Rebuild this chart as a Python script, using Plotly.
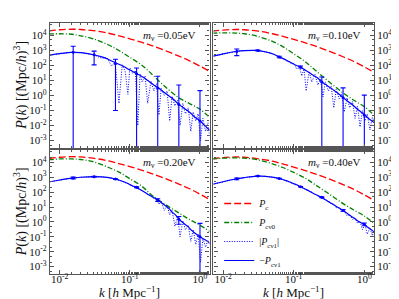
import plotly.graph_objects as go

# ---------------- data ----------------
k_smooth = [0.007, 0.01, 0.015, 0.02, 0.03, 0.05, 0.07, 0.1, 0.15, 0.2, 0.3, 0.5, 0.7, 1.0, 1.37]

pc_005 = [2.0e4, 2.4e4, 2.6e4, 2.5e4, 2.1e4, 1.4e4, 9.5e3, 6e3, 3.4e3, 2.2e3, 1.1e3, 4.2e2, 2.1e2, 9e1, 4e1]
pc_010 = [1.9e4, 2.3e4, 2.5e4, 2.4e4, 2.0e4, 1.3e4, 8.8e3, 5.5e3, 3.1e3, 2.0e3, 1.0e3, 3.8e2, 1.9e2, 8e1, 3.5e1]
pc_020 = [1.8e4, 2.2e4, 2.4e4, 2.3e4, 1.9e4, 1.25e4, 8.3e3, 5.2e3, 2.9e3, 1.85e3, 9.2e2, 3.5e2, 1.75e2, 7.3e1, 3.2e1]
pc_040 = [1.7e4, 2.1e4, 2.3e4, 2.2e4, 1.8e4, 1.2e4, 7.8e3, 4.8e3, 2.7e3, 1.7e3, 8.5e2, 3.2e2, 1.6e2, 6.5e1, 2.8e1]

pcn0_005 = [1.25e4, 1.3e4, 1.2e4, 9.5e3, 6e3, 2.3e3, 1e3, 3.5e2, 1e2, 30, 5, 0.7, 0.3, 0.12, 0.035]
pcn0_010 = [1.4e4, 1.5e4, 1.45e4, 1.3e4, 9e3, 4e3, 1.8e3, 6e2, 1.6e2, 50, 10, 1.5, 0.5, 0.18, 0.05]
pcn0_020 = [1.5e4, 1.7e4, 1.7e4, 1.55e4, 1.1e4, 4.5e3, 2.2e3, 8e2, 2.4e2, 70, 18, 4, 1.5, 0.6, 0.23]
pcn0_040 = [1.7e4, 1.9e4, 2.0e4, 1.9e4, 1.5e4, 8e3, 4.5e3, 2.1e3, 8e2, 3.2e2, 90, 17, 6.5, 2.5, 0.8]

k_fine = [0.007, 0.01, 0.015, 0.02, 0.03, 0.04, 0.047, 0.055, 0.062, 0.07, 0.078, 0.086, 0.094, 0.1,
          0.11, 0.12, 0.13, 0.14, 0.15, 0.165, 0.18, 0.2, 0.22, 0.24, 0.26, 0.28, 0.31, 0.34, 0.37,
          0.4, 0.44, 0.48, 0.52, 0.57, 0.62, 0.68, 0.74, 0.8, 0.87, 0.94, 1.02, 1.1, 1.2, 1.3, 1.37]

# -P_cnu1 (smooth model)
mp_005 = [480, 620, 750, 720, 520, 370, 280, 200, 155, 120, 95, 75, 58, 50,
          40, 32, 26, 22, 18, 13.5, 10, 7, 5, 3.8, 3, 2.3, 1.6, 1.15, 0.85,
          0.65, 0.45, 0.3, 0.22, 0.16, 0.12, 0.09, 0.065, 0.045, 0.033, 0.025, 0.019, 0.013, 0.009, 0.006, 0.005]
mp_010 = [400, 600, 850, 980, 1000, 800, 660, 500, 370, 290, 230, 180, 145, 125,
          100, 85, 68, 55, 45, 34, 26, 19, 14, 9.5, 7, 5.5, 4, 3, 2.2,
          1.7, 1.2, 0.85, 0.62, 0.45, 0.33, 0.24, 0.17, 0.12, 0.09, 0.065, 0.047, 0.035, 0.025, 0.019, 0.016]
mp_020 = [480, 650, 880, 1000, 1100, 1050, 980, 870, 760, 640, 540, 450, 380, 320,
          260, 220, 180, 150, 125, 95, 72, 55, 42, 33, 26, 20, 14, 10, 7,
          4.5, 3.2, 2, 1.3, 0.9, 0.65, 0.48, 0.3, 0.22, 0.16, 0.12, 0.095, 0.075, 0.06, 0.046, 0.04]
mp_040 = [330, 500, 760, 950, 1200, 1150, 1050, 950, 820, 700, 590, 500, 420, 370,
          310, 250, 210, 175, 150, 120, 95, 72, 58, 47, 38, 31, 23, 18, 14,
          11, 8.5, 6.5, 5, 3.8, 2.8, 2.1, 1.6, 1.2, 0.95, 0.78, 0.6, 0.45, 0.35, 0.26, 0.22]

# |P_cnu1| (measured, noisy)
ab_005 = [480, 620, 750, 720, 520, 300, 340, 90, 180, 0.3, 110, 40, 1.2, 70,
          30, 45, 0.01, 25, 8, 20, 0.3, 9, 2, 6, 0.05, 3, 1.0, 2.0, 0.02,
          0.9, 0.2, 0.5, 0.01, 0.3, 0.06, 0.15, 0.004, 0.08, 0.02, 0.06, 0.001, 0.03, 0.004, 0.015, 0.002]
ab_010 = [400, 600, 850, 980, 1000, 800, 660, 520, 330, 300, 200, 190, 120, 140,
          60, 95, 20, 60, 2, 40, 8, 25, 5, 12, 0.8, 8, 2, 4, 0.15,
          2.5, 0.6, 1.3, 0.08, 0.7, 0.15, 0.4, 0.03, 0.2, 0.008, 0.1, 0.02, 0.06, 0.005, 0.035, 0.02]
ab_020 = [480, 650, 880, 1000, 1100, 1050, 980, 870, 760, 640, 540, 450, 380, 320,
          260, 220, 180, 150, 125, 100, 68, 60, 38, 35, 15, 24, 6, 12, 3,
          6, 0.5, 2.5, 0.1, 1.2, 0.3, 0.6, 0.05, 0.3, 0.03, 0.15, 0.002, 0.08, 0.02, 0.06, 0.03]
ab_040 = [330, 500, 760, 950, 1200, 1150, 1050, 950, 820, 700, 590, 500, 420, 370,
          310, 250, 210, 175, 150, 120, 95, 72, 58, 47, 38, 31, 25, 16, 15,
          9, 9, 5, 5.5, 2.5, 3.2, 1.5, 1.8, 0.8, 1.1, 0.3, 0.7, 0.15, 0.4, 0.12, 0.25]

# error-bar points
k_err = [0.0156, 0.031, 0.0625, 0.125, 0.25, 0.5, 1.0]
ev_005 = [750, 510, 130, 28, 3.2, 0.25, 0.02]
es_005 = [1150, 400, 129.9, 40, 16, 4.8, 2.1]
ev_010 = [850, 1000, 370, 80, 8, 0.7, 0.05]
es_010 = [400, 60, 40, 12, 9, 2.5, 1.0]
ev_020 = [900, 1100, 750, 210, 30, 1.5, 0.1]
es_020 = [120, 60, 40, 15, 6, 0.8, 0.7]
ev_040 = [780, 1200, 820, 230, 45, 6, 0.7]
es_040 = [100, 50, 30, 10, 3, 0.8, 0.15]

x_tick_vals = [0.01, 0.1, 1.0]
x_tick_text = ["10<sup>-2</sup>", "10<sup>-1</sup>", "10<sup>0</sup>"]
y_tick_vals = [1e-3, 1e-2, 1e-1, 1e0, 1e1, 1e2, 1e3, 1e4]
y_tick_text = ["10<sup>-3</sup>", "10<sup>-2</sup>", "10<sup>-1</sup>", "10<sup>0</sup>",
               "10<sup>1</sup>", "10<sup>2</sup>", "10<sup>3</sup>", "10<sup>4</sup>"]

panel_labels = ["0.05eV", "0.10eV", "0.20eV", "0.40eV"]
legend_names = ["<i>P</i><sub>c</sub>", "<i>P</i><sub>cν0</sub>",
                "|<i>P</i><sub>cν1</sub>|", "−<i>P</i><sub>cν1</sub>"]

panels = [
    (pc_005, pcn0_005, ab_005, mp_005, ev_005, es_005),
    (pc_010, pcn0_010, ab_010, mp_010, ev_010, es_010),
    (pc_020, pcn0_020, ab_020, mp_020, ev_020, es_020),
    (pc_040, pcn0_040, ab_040, mp_040, ev_040, es_040),
]

RED = "#ff0000"
GREEN = "#008000"
BLUE = "#0000ff"
FONT = "Liberation Serif"
TXT = "#111111"

fig = go.Figure()
for i, (pc, pcn0, ab, mp, ev, es) in enumerate(panels):
    xa = "x" if i == 0 else f"x{i+1}"
    ya = "y" if i == 0 else f"y{i+1}"
    show = (i == 0)
    fig.add_trace(go.Scatter(x=k_smooth, y=pc, mode="lines", name=legend_names[0],
                             line=dict(color=RED, width=1.3, dash="7px,3px", shape="spline"),
                             xaxis=xa, yaxis=ya, showlegend=show, legendrank=1))
    fig.add_trace(go.Scatter(x=k_smooth, y=pcn0, mode="lines", name=legend_names[1],
                             line=dict(color=GREEN, width=1.3, dash="5px,2px,1px,2px", shape="spline"),
                             xaxis=xa, yaxis=ya, showlegend=show, legendrank=2))
    fig.add_trace(go.Scatter(x=k_fine, y=ab, mode="lines", name=legend_names[2],
                             line=dict(color=BLUE, width=1.0, dash="1px,1.5px"),
                             xaxis=xa, yaxis=ya, showlegend=show, legendrank=3))
    fig.add_trace(go.Scatter(x=k_fine, y=mp, mode="lines", name=legend_names[3],
                             line=dict(color=BLUE, width=1.2, shape="spline"),
                             xaxis=xa, yaxis=ya, showlegend=show, legendrank=4))
    lower = [min(s, v - 1e-6) for v, s in zip(ev, es)]
    fig.add_trace(go.Scatter(x=k_err, y=ev, mode="markers",
                             marker=dict(color=BLUE, size=3),
                             error_y=dict(type="data", array=es, arrayminus=lower,
                                          color=BLUE, thickness=1.1, width=2.5),
                             xaxis=xa, yaxis=ya, showlegend=False))

W, H = 399, 299
L, R, T, B = 42, 20, 15, 33
pw, ph = W - L - R, H - T - B
xl = (208 - L) / pw
xr = (212 - L) / pw
yb = (H - B - 142) / ph
yt = (H - B - 140) / ph

common = dict(type="log", showline=True, linecolor="#555555", linewidth=1.2, mirror="allticks",
              ticks="inside", ticklen=4, tickcolor="#555555", showgrid=False, zeroline=False,
              minor=dict(ticks="inside", ticklen=2, tickcolor="#555555", showgrid=False),
              tickfont=dict(family=FONT, size=11, color=TXT))
xrange = [-2.137, 0.137]
yrange = [-3.5, 4.83]

layout = dict(
    width=W, height=H,
    margin=dict(l=L, r=R, t=T, b=B),
    paper_bgcolor="white", plot_bgcolor="white",
    font=dict(family=FONT, size=11, color=TXT),
    legend=dict(x=(218 - L) / pw, y=(H - B - 181) / ph, xanchor="left", yanchor="top",
                bgcolor="rgba(0,0,0,0)", font=dict(family=FONT, size=10, color=TXT),
                tracegroupgap=0, itemwidth=30),
)
domains = [
    ([0, xl], [yt, 1], False, "left"),
    ([xr, 1], [yt, 1], False, "right"),
    ([0, xl], [0, yb], True, "left"),
    ([xr, 1], [0, yb], True, "right"),
]
for i, (dx, dy, showx, side) in enumerate(domains):
    n = "" if i == 0 else str(i + 1)
    xa = dict(common, domain=dx, range=xrange, anchor="y" + n, showticklabels=showx,
              tickmode="array", tickvals=x_tick_vals, ticktext=x_tick_text,
              ticklabelstandoff=-5)
    ya = dict(common, domain=dy, range=yrange, anchor="x" + n, side=side,
              tickmode="array", tickvals=y_tick_vals, ticktext=y_tick_text)
    layout["xaxis" + n] = xa
    layout["yaxis" + n] = ya

fig.update_layout(**layout)

# axis titles as annotations for precise placement
ytitle = "<i>P</i>(<i>k</i>) [(Mpc/<i>h</i>)<sup>3</sup>]"
for yc in [(15 + 140) / 2, (142 + 266) / 2]:
    fig.add_annotation(text=ytitle, xref="paper", yref="paper",
                       x=(11 - L) / pw, y=(H - B - yc) / ph, xanchor="center", yanchor="middle",
                       textangle=-90, showarrow=False, font=dict(family=FONT, size=14, color=TXT))
xtitle = "<i>k</i> [<i>h</i> Mpc<sup>−1</sup>]"
for xc in [125, 295]:
    fig.add_annotation(text=xtitle, xref="paper", yref="paper",
                       x=(xc - L) / pw, y=(H - B - 284) / ph, xanchor="center", yanchor="middle",
                       showarrow=False, font=dict(family=FONT, size=13, color=TXT))

for i, lab in enumerate(panel_labels):
    n = "" if i == 0 else str(i + 1)
    fig.add_annotation(text="<i>m</i><sub>ν</sub> =" + lab, xref=f"x{n} domain", yref=f"y{n} domain",
                       x=0.93, y=0.97, xanchor="right", yanchor="top", showarrow=False,
                       font=dict(family=FONT, size=11, color=TXT))

fig.write_html("out.html")
